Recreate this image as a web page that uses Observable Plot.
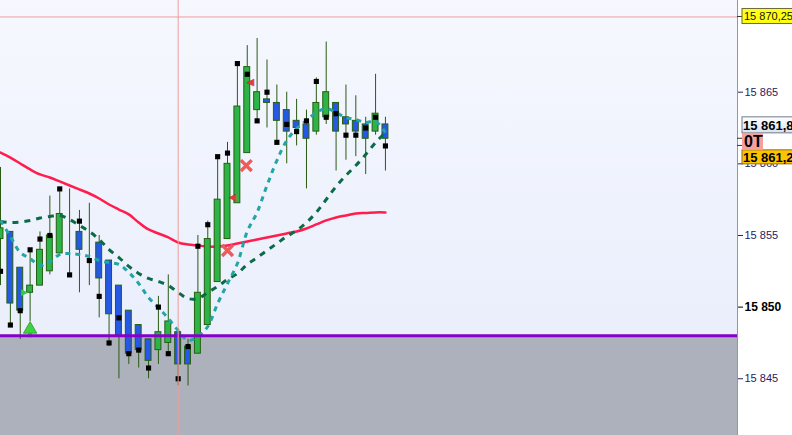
<!DOCTYPE html>
<html><head><meta charset="utf-8">
<script src="https://cdn.jsdelivr.net/npm/d3@7"></script>
<script src="https://cdn.jsdelivr.net/npm/@observablehq/plot@0.6"></script>
<style>
html,body{margin:0;padding:0;background:#fff;}
#chart svg{display:block;}
</style></head><body><div id="chart"></div>
<script>
// ---- data ----
const openP  = [15854.75,15855.25,15852.75,15851.0,15851.5,15852.5,15853.75,15855.25,15855.25,15854.5,15854.5,15853.25,15851.5,15849.75,15848.75,15847.75,15847.0,15847.5,15848.25,15847.25,15846.75,15848.75,15851.75,15854.75,15857.25,15860.75,15863.75,15864.5,15864.25,15863.75,15863.0,15862.75,15862.25,15863.25,15864.25,15863.25,15863.0,15862.75,15862.25,15862.75];
const highP  = [15859.75,15855.25,15852.75,15854.0,15855.25,15857.75,15858.25,15858.25,15856.75,15857.25,15855.0,15853.25,15851.5,15849.75,15848.75,15847.75,15850.75,15852.25,15848.5,15847.75,15855.0,15856.0,15860.5,15861.5,15867.0,15868.25,15868.75,15867.25,15865.5,15865.0,15864.5,15863.75,15866.0,15868.5,15864.25,15865.5,15864.75,15863.25,15866.25,15863.25];
const lowP   = [15851.5,15848.75,15847.75,15849.0,15851.5,15852.25,15853.75,15852.25,15851.0,15851.5,15849.25,15847.25,15845.0,15846.0,15845.75,15845.0,15846.0,15846.75,15844.5,15844.5,15846.75,15848.75,15851.75,15854.75,15857.25,15860.75,15863.0,15862.5,15861.5,15860.0,15861.25,15858.25,15862.0,15862.75,15859.5,15860.25,15860.5,15859.25,15862.0,15859.5];
const closeP = [15855.5,15850.25,15849.75,15851.5,15854.0,15855.0,15856.5,15855.25,15854.0,15854.5,15852.0,15849.5,15848.0,15846.75,15847.0,15846.25,15848.25,15849.0,15846.0,15846.0,15851.0,15854.75,15857.5,15860.0,15864.0,15866.75,15865.0,15864.25,15863.0,15862.25,15862.5,15861.75,15864.25,15865.0,15862.25,15862.75,15862.25,15861.75,15863.5,15861.75];
const pivotP = [15852.5,15848.75,15849.75,15854.0,15854.75,15855.0,15858.25,15852.25,15856.0,15853.25,15850.75,15847.5,15849.25,15846.75,15847.0,15845.75,15850.0,15846.75,15845.0,15847.25,15854.25,15855.75,15860.5,15860.75,15867.0,15866.25,15863.0,15865.0,15861.5,15862.75,15862.25,15863.0,15865.75,15863.25,15863.5,15862.0,15862.0,15862.5,15863.25,15861.25];
const maSlow = [15860.79,15860.44,15860.02,15859.61,15859.26,15859.05,15858.77,15858.49,15858.21,15857.93,15857.58,15857.16,15856.81,15856.47,15855.91,15855.42,15855.14,15854.86,15854.51,15854.37,15854.30,15854.23,15854.23,15854.30,15854.44,15854.58,15854.72,15854.86,15855.00,15855.14,15855.28,15855.49,15855.77,15856.05,15856.26,15856.40,15856.54,15856.57,15856.61,15856.61];
const maMid  = [15855.98,15855.91,15855.94,15856.05,15856.22,15856.33,15856.40,15856.12,15855.70,15855.28,15854.72,15854.02,15853.46,15852.84,15852.35,15852.00,15851.79,15851.51,15851.02,15850.60,15850.60,15851.02,15851.44,15851.93,15852.35,15852.98,15853.46,15853.95,15854.44,15854.93,15855.35,15855.91,15856.61,15857.51,15858.42,15859.19,15859.88,15860.65,15861.49,15862.19];
const maFast = [15856.05,15854.93,15853.81,15853.39,15852.91,15853.18,15853.67,15853.74,15853.67,15853.53,15853.25,15853.11,15852.98,15852.42,15851.65,15850.67,15849.97,15849.21,15848.37,15847.67,15847.95,15848.65,15850.25,15851.65,15853.04,15855.28,15856.61,15858.49,15860.23,15861.63,15862.47,15863.03,15863.58,15863.86,15863.58,15863.23,15863.09,15862.89,15862.96,15862.19];

const exitMarks   = [{i: 23, v: 15853.95}, {i: 24.9, v: 15859.88}];
const sellMarks   = [{i: 23.5, v: 15857.71}, {i: 25.33, v: 15865.68}];
const entryMarks  = [{i: 2.43, v: 15851.02}];
const buyArrows   = [{i: 3, tip: 15848.45, base: 15847.85}];

const tickValues = [15845, 15855, 15860, 15865];
const tickLabels = ["15 845", "15 855", "15 860", "15 865"];
const boldTicks  = [15850];
const boldLabels = ["15 850"];

const supportLevel = 15848;
const resistanceLevel = 15870.25;
const resistanceText = "15 870,25";
const cursorIndex = 18;
const bidLevel = 15861.75, bidText = "15 861,8";
const askLevel = 15861.25, askText = "15 861,2";
const orderText = "0T";

// ---- chart ----
const W = 792, H = 435, axisX = 737;
const xDomain = [0, 74.67];
const yDomain = [15841.04, 15871.40];
const candles = openP.map((o, i) => ({i, o, h: highP[i], l: lowP[i], c: closeP[i]}));
const pivots = pivotP.map((v, i) => ({i, v}));
const line = arr => arr.map((v, i) => ({i, v}));

const plot = Plot.plot({
  width: W, height: H,
  marginLeft: 0, marginRight: W - axisX, marginTop: 0, marginBottom: 0,
  x: {domain: xDomain, axis: null},
  y: {domain: yDomain, axis: null},
  style: {
    fontFamily: "Liberation Sans, Arial, sans-serif",
    background: `linear-gradient(to right, rgba(0,0,0,0) ${axisX}px, #ffffff ${axisX}px), linear-gradient(to bottom, #f6f8fe, #e6ecfb)`
  },
  marks: [
    Plot.rect([supportLevel], {x1: xDomain[0], x2: xDomain[1], y1: yDomain[0], y2: d => d, fill: "#adb1bc"}),
    Plot.ruleY([resistanceLevel], {stroke: "#f29b9b", strokeWidth: 1}),
    Plot.line(line(maSlow), {x: "i", y: "v", stroke: "#ff1d4e", strokeWidth: 2.5, curve: "catmull-rom"}),
    Plot.ruleX(candles, {x: "i", y1: "l", y2: "h", stroke: "#2b5a12", strokeWidth: 1}),
    Plot.rect(candles, {x1: d => d.i - 0.3, x2: d => d.i + 0.3, y1: "o", y2: "c",
      fill: d => d.c > d.o ? "#2db446" : d.c < d.o ? "#2558e4" : "#2b5a12",
      stroke: "#255f12", strokeWidth: 1}),
    Plot.line(line(maMid), {x: "i", y: "v", stroke: "#0b6b47", strokeWidth: 3, curve: "catmull-rom"}),
    Plot.line(line(maFast), {x: "i", y: "v", stroke: "#22a5a5", strokeWidth: 3, curve: "catmull-rom"}),
    Plot.dot(pivots, {x: "i", y: "v", symbol: "square", r: 2.9, fill: "#000"}),
    Plot.dot(exitMarks, {x: "i", y: "v", symbol: "times", r: 5, stroke: "#f05a5a", strokeWidth: 3.5}),
    Plot.text(sellMarks, {x: "i", y: "v", text: d => "◀", fill: "#e03a3a", stroke: "#a02020", strokeWidth: 0.5, fontSize: 9, fontFamily: "DejaVu Sans"}),
    Plot.text(entryMarks, {x: "i", y: "v", text: d => "▶", fill: "#3cc83c", fontSize: 9, fontFamily: "DejaVu Sans"}),
    Plot.ruleX(buyArrows, {x: "i", y1: "tip", y2: "base", stroke: "#3fd23f", strokeWidth: 4}),
    Plot.dot(buyArrows, {x: "i", y: "tip", symbol: "triangle", r: 5, fill: "#3fd23f", stroke: "#2c9a2c", strokeWidth: 0.8}),
    Plot.ruleY([supportLevel], {stroke: "#8600c8", strokeWidth: 3}),
    Plot.ruleX([cursorIndex], {stroke: "#f29b9b", strokeWidth: 1}),
    Plot.ruleX([xDomain[1]], {stroke: "#8d99ab", strokeWidth: 1}),
    Plot.axisY({anchor: "right", ticks: tickValues, tickFormat: d => tickLabels[tickValues.indexOf(d)],
      tickSize: 5, tickPadding: 2, fontSize: 11, color: "#2a2060"}),
    Plot.axisY({anchor: "right", ticks: boldTicks, tickFormat: d => boldLabels[boldTicks.indexOf(d)],
      tickSize: 5, tickPadding: 2, fontSize: 12, fontWeight: "bold", color: "#000"})
  ]
});

document.getElementById("chart").appendChild(plot);

const svg = d3.select(plot);
// dashed moving averages
svg.selectAll('[stroke="#0b6b47"]').attr("stroke-dasharray", "6,6").attr("stroke-linecap", "butt");
svg.selectAll('[stroke="#22a5a5"]').attr("stroke-dasharray", "5,5").attr("stroke-linecap", "butt");

// ---- price labels in the right margin ----
const ys = plot.scale("y");
const g = svg.append("g").attr("font-family", "Liberation Sans, Arial, sans-serif").attr("text-anchor", "start");
const defs = svg.append("defs");
const lg = defs.append("linearGradient").attr("id", "bidGrad").attr("x1", 0).attr("y1", 0).attr("x2", 0).attr("y2", 1);
lg.append("stop").attr("offset", 0).attr("stop-color", "#ffffff");
lg.append("stop").attr("offset", 1).attr("stop-color", "#d7e2f3");
const bx = axisX + 5, bw = 60;

[resistanceLevel, bidLevel, askLevel].forEach(v => {
  g.append("line").attr("x1", axisX).attr("x2", bx).attr("y1", ys.apply(v)).attr("y2", ys.apply(v)).attr("stroke", "#333");
});

const yr = ys.apply(resistanceLevel);
g.append("rect").attr("x", bx).attr("y", yr - 8).attr("width", bw).attr("height", 15).attr("fill", "#ffff10").attr("stroke", "#6b6b3a");
g.append("text").attr("x", bx + 2).attr("y", yr + 4).attr("font-size", 11).attr("fill", "#111").attr("text-anchor", "start").text(resistanceText);

const mid = (ys.apply(bidLevel) + ys.apply(askLevel)) / 2;
g.append("rect").attr("x", bx).attr("y", mid - 25).attr("width", bw).attr("height", 16).attr("fill", "url(#bidGrad)").attr("stroke", "#707a88");
g.append("text").attr("x", bx + 1).attr("y", mid - 12).attr("font-size", 13).attr("font-weight", "bold").attr("fill", "#000").attr("text-anchor", "start").text(bidText);
g.append("rect").attr("x", bx).attr("y", mid + 8).attr("width", bw).attr("height", 14).attr("fill", "#ffc400").attr("stroke", "#8a7020");
g.append("text").attr("x", bx + 1).attr("y", mid + 20).attr("font-size", 13).attr("font-weight", "bold").attr("fill", "#000").attr("text-anchor", "start").text(askText);
g.append("rect").attr("x", bx).attr("y", mid - 9).attr("width", 21).attr("height", 17).attr("fill", "#f3a0a0");
g.append("text").attr("x", bx + 2).attr("y", mid + 5).attr("font-size", 16).attr("font-weight", "bold").attr("fill", "#000").attr("text-anchor", "start").text(orderText);
</script></body></html>
